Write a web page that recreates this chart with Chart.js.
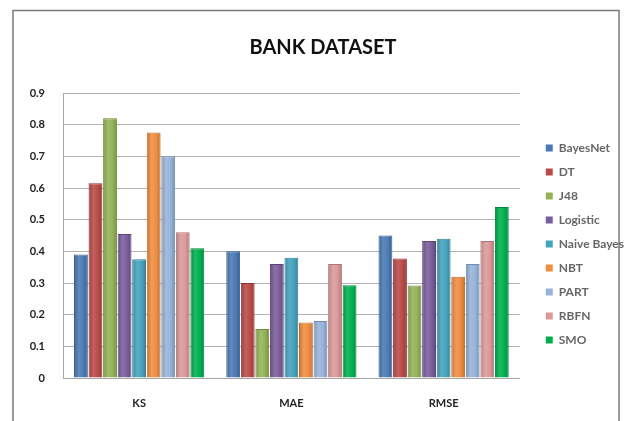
<!DOCTYPE html>
<html>
<head>
<meta charset="utf-8">
<script src="https://cdn.jsdelivr.net/npm/chart.js@4.4.1/dist/chart.umd.min.js"></script>
<style>
  html, body { margin: 0; padding: 0; background: #fff; }
  #wrap { width: 630px; height: 421px; position: relative; }
</style>
</head>
<body>
<div id="wrap"><canvas id="chart_bank" width="630" height="421"></canvas></div>
<script>
// categories on the x axis
var categorias = ["KS", "MAE", "RMSE"];
var modelos = ["BayesNet", "DT", "J48", "Logistic", "Naive Bayes", "NBT", "PART", "RBFN", "SMO"];

// values per model: [KS, MAE, RMSE]
var bayesNet   = [0.39, 0.40, 0.45];
var dt         = [0.615, 0.30, 0.377];
var j48        = [0.82, 0.155, 0.292];
var logistic   = [0.455, 0.36, 0.433];
var naiveBayes = [0.375, 0.38, 0.44];
var nbt        = [0.775, 0.175, 0.32];
var part       = [0.70, 0.18, 0.36];
var rbfn       = [0.46, 0.36, 0.433];
var smo        = [0.41, 0.293, 0.54];

var yTicks = [0, 0.1, 0.2, 0.3, 0.4, 0.5, 0.6, 0.7, 0.8, 0.9];

var valores = [bayesNet, dt, j48, logistic, naiveBayes, nbt, part, rbfn, smo];

var color_fondo = [
    "#4a7ab5", // azul
    "#b94a47", // rojo
    "#93b357", // verde
    "#7a5e9c", // morado
    "#45a3bd", // celeste
    "#ef8d40", // naranja
    "#98b3d9", // azul claro
    "#db999a", // rosa
    "#00b04f", // verde fuerte
];
var color_borde = [
    "#35608f",
    "#8e3431",
    "#6f8a3c",
    "#5b4477",
    "#2f7f93",
    "#c0692a",
    "#6f8db8",
    "#b27374",
    "#00873a",
];

function mezcla(hex, otro, t) {
    var a = parseInt(hex.slice(1), 16), b = parseInt(otro.slice(1), 16);
    var r = Math.round(((a >> 16) & 255) * (1 - t) + ((b >> 16) & 255) * t);
    var g = Math.round(((a >> 8) & 255) * (1 - t) + ((b >> 8) & 255) * t);
    var bl = Math.round((a & 255) * (1 - t) + (b & 255) * t);
    return "rgb(" + r + "," + g + "," + bl + ")";
}

// Excel style outer frame
var marco = {
    id: "marco",
    beforeDraw: function (chart) {
        var c = chart.ctx;
        c.save();
        c.fillStyle = "#fff";
        c.fillRect(0, 0, chart.width, chart.height);
        c.strokeStyle = "#7a7a7a";
        c.lineWidth = 1.5;
        c.strokeRect(13, 10.5, 606, 420);
        c.restore();
    },
};

// cylinder like shading on each bar
var cilindro = {
    id: "cilindro",
    beforeDatasetsDraw: function (chart) {
        var c = chart.ctx;
        chart.data.datasets.forEach(function (ds, i) {
            var base = color_fondo[i];
            chart.getDatasetMeta(i).data.forEach(function (bar) {
                var x0 = bar.x - bar.width / 2, x1 = bar.x + bar.width / 2;
                var grad = c.createLinearGradient(x0, 0, x1, 0);
                grad.addColorStop(0, mezcla(base, "#000000", 0.18));
                grad.addColorStop(0.35, mezcla(base, "#ffffff", 0.12));
                grad.addColorStop(0.7, base);
                grad.addColorStop(1, mezcla(base, "#000000", 0.22));
                bar.options.backgroundColor = grad;
            });
        });
    },
};

var datasets = modelos.map(function (m, i) {
    return {
        label: m,
        data: valores[i],
        // scriptable so each bar keeps its own options object
        backgroundColor: function (ctx) { return color_fondo[ctx.datasetIndex]; },
        borderColor: color_borde[i],
        borderWidth: 1,
        barPercentage: 0.95,
        categoryPercentage: 0.86,
    };
});

var ctx_bank = document.getElementById("chart_bank");
var chart_bank = new Chart(ctx_bank, {
    type: "bar",
    data: {
        labels: categorias,
        datasets: datasets,
    },
    plugins: [marco, cilindro],
    options: {
        responsive: false,
        animation: false,
        layout: { padding: { left: 12, right: -4, top: 24, bottom: 0 } },
        plugins: {
            title: {
                display: true,
                text: "BANK DATASET",
                color: "#111",
                font: { family: "Lato", size: 20, weight: "bold" },
                padding: { top: 12, bottom: 33 },
            },
            legend: {
                position: "right",
                title: {
                    display: true,
                    text: " ",
                    font: { size: 11 },
                    padding: { top: 15, bottom: 15 },
                },
                labels: {
                    boxWidth: 7,
                    boxHeight: 7,
                    padding: 12,
                    color: "#222",
                    font: { family: "Lato", size: 12, weight: "bold" },
                    generateLabels: function (chart) {
                        return modelos.map(function (m, i) {
                            return {
                                text: m,
                                fillStyle: color_fondo[i],
                                strokeStyle: color_fondo[i],
                                lineWidth: 0,
                                datasetIndex: i,
                            };
                        });
                    },
                },
            },
            tooltip: { enabled: false },
        },
        scales: {
            x: {
                afterFit: function (s) { s.height = 43; },
                grid: { display: false, drawTicks: false },
                border: { display: true, color: "#a6a6a6" },
                ticks: {
                    color: "#222",
                    padding: 19,
                    font: { family: "Lato", size: 11, weight: "bold" },
                },
            },
            y: {
                min: 0,
                max: 0.9,
                afterFit: function (s) { s.width = 51; },
                afterBuildTicks: function (s) {
                    s.ticks = yTicks.map(function (v) { return { value: v }; });
                },
                grid: { color: "#b3b3b3", drawTicks: false },
                border: { display: true, color: "#a6a6a6" },
                ticks: {
                    color: "#222",
                    padding: 18,
                    font: { family: "Lato", size: 11, weight: "bold" },
                },
            },
            hueco: {
                type: "linear",
                position: "right",
                display: true,
                afterFit: function (s) { s.width = 14; },
                grid: { display: false },
                border: { display: false },
                ticks: { display: false },
            },
        },
    },
});
</script>
</body>
</html>
